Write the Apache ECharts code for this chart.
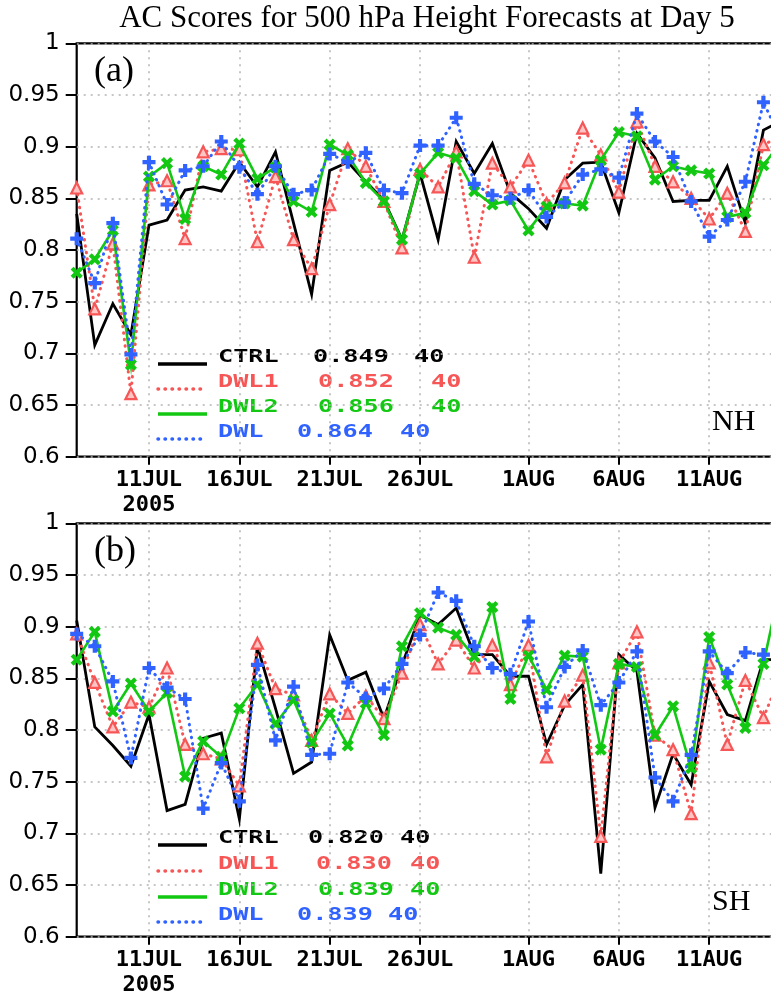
<!DOCTYPE html>
<html>
<head>
<meta charset="utf-8">
<script src="https://cdn.jsdelivr.net/npm/echarts@6/dist/echarts.min.js"></script>
<style>
  html, body { margin: 0; padding: 0; overflow: hidden; background: #fff; }
  #chart { width: 800px; height: 999px; }
</style>
</head>
<body>
<div id="chart"></div>
<script>
// Verification dates (00Z), 7 Jul - 15 Aug 2005
const days = [
  '7JUL','8JUL','9JUL','10JUL','11JUL','12JUL','13JUL','14JUL','15JUL','16JUL',
  '17JUL','18JUL','19JUL','20JUL','21JUL','22JUL','23JUL','24JUL','25JUL','26JUL',
  '27JUL','28JUL','29JUL','30JUL','31JUL','1AUG','2AUG','3AUG','4AUG','5AUG',
  '6AUG','7AUG','8AUG','9AUG','10AUG','11AUG','12AUG','13AUG','14AUG','15AUG'
];
const xTickLabels = ['11JUL','16JUL','21JUL','26JUL','1AUG','6AUG','11AUG'];
const yearLabel = '2005';
const yTicks = [0.6, 0.65, 0.7, 0.75, 0.8, 0.85, 0.9, 0.95, 1];

// Northern Hemisphere AC scores
const nhCtrl = [0.835,0.708,0.748,0.718,0.824,0.829,0.858,0.861,0.857,0.885,
                0.861,0.895,0.826,0.757,0.877,0.885,0.866,0.848,0.810,0.874,
                0.810,0.905,0.874,0.903,0.855,0.840,0.821,0.868,0.884,0.885,
                0.836,0.913,0.889,0.847,0.848,0.848,0.881,0.826,0.916,0.925];
const nhDwl1 = [0.860,0.743,0.806,0.661,0.863,0.867,0.811,0.895,0.898,0.897,
                0.808,0.871,0.810,0.782,0.844,0.898,0.881,0.847,0.802,0.878,
                0.861,0.895,0.793,0.884,0.861,0.887,0.845,0.865,0.918,0.892,
                0.856,0.924,0.881,0.866,0.850,0.830,0.855,0.818,0.902,0.910];
const nhDwl2 = [0.778,0.791,0.819,0.689,0.871,0.884,0.830,0.881,0.873,0.903,
                0.869,0.880,0.847,0.837,0.902,0.892,0.865,0.847,0.810,0.874,
                0.894,0.889,0.857,0.844,0.848,0.819,0.842,0.845,0.843,0.887,
                0.914,0.910,0.868,0.881,0.877,0.874,0.832,0.836,0.882,0.905];
const nhDwl  = [0.811,0.768,0.826,0.699,0.885,0.844,0.877,0.881,0.905,0.880,
                0.854,0.881,0.854,0.858,0.893,0.885,0.894,0.858,0.855,0.901,
                0.901,0.928,0.864,0.853,0.850,0.858,0.832,0.846,0.873,0.878,
                0.870,0.932,0.905,0.890,0.847,0.813,0.829,0.866,0.943,0.906];

// Southern Hemisphere AC scores
const shCtrl = [0.906,0.803,0.785,0.765,0.815,0.722,0.728,0.792,0.797,0.714,
                0.881,0.821,0.758,0.769,0.892,0.848,0.856,0.811,0.863,0.911,
                0.902,0.918,0.873,0.873,0.852,0.852,0.786,0.824,0.844,0.661,
                0.873,0.857,0.725,0.777,0.747,0.847,0.815,0.809,0.868,0.868];
const shDwl1 = [0.893,0.846,0.803,0.827,0.822,0.860,0.786,0.777,0.772,0.746,
                0.884,0.840,0.834,0.790,0.835,0.816,0.833,0.811,0.855,0.902,
                0.864,0.887,0.860,0.882,0.844,0.882,0.774,0.828,0.853,0.697,
                0.865,0.895,0.795,0.781,0.719,0.865,0.786,0.848,0.812,0.855];
const shDwl2 = [0.868,0.895,0.818,0.845,0.818,0.836,0.755,0.789,0.774,0.821,
                0.844,0.806,0.829,0.788,0.816,0.785,0.826,0.795,0.881,0.913,
                0.899,0.892,0.871,0.919,0.830,0.872,0.839,0.872,0.871,0.781,
                0.864,0.861,0.795,0.823,0.763,0.890,0.844,0.802,0.864,0.945];
const shDwl  = [0.893,0.881,0.847,0.773,0.860,0.841,0.830,0.724,0.768,0.731,
                0.863,0.790,0.842,0.776,0.777,0.846,0.831,0.840,0.864,0.892,
                0.933,0.925,0.881,0.860,0.854,0.905,0.822,0.861,0.877,0.824,
                0.846,0.876,0.754,0.731,0.776,0.876,0.855,0.875,0.873,0.872];

// Legend entries: experiment name, mean score, number of cases
const expNames = ['CTRL', 'DWL1', 'DWL2', 'DWL'];
const nhMeans = ['0.849', '0.852', '0.856', '0.864'];
const shMeans = ['0.820', '0.830', '0.839', '0.839'];
const caseCounts = ['40', '40', '40', '40'];

const titleText = 'AC Scores for 500 hPa Height Forecasts at Day 5';

const RED = '#f65656', GREEN = '#12c812', BLUE = '#2f62ff';
const PLUS = 'path://M3.4,0H6.6V3.4H10V6.6H6.6V10H3.4V6.6H0V3.4H3.4Z';

const styles = [
  { color: '#000', line: { width: 2.8, type: 'solid' }, symbol: 'none' },
  { color: RED, line: { width: 3, type: [0.5, 6], cap: 'round' }, symbol: 'triangle', size: 11,
    item: { color: '#ffc4c4', borderColor: RED, borderWidth: 2.2 } },
  { color: GREEN, line: { width: 2.6, type: 'solid' }, symbol: PLUS, size: 13, rotate: 45,
    item: { color: GREEN } },
  { color: BLUE, line: { width: 3, type: [0.5, 6], cap: 'round' }, symbol: PLUS, size: 13, rotate: 0,
    item: { color: BLUE } }
];

const isTick = (idx) => xTickLabels.indexOf(days[idx]) >= 0;

const gridLeft = 76.7, plotW = 704.8, plotH = 413.4;
const panelTops = [43.3, 523.3];

function makeXAxis(gi) {
  return {
    type: 'category', gridIndex: gi, data: days, boundaryGap: false,
    axisLine: { show: false },
    axisTick: { show: true, inside: false, length: 8, interval: isTick, lineStyle: { color: '#000', width: 2 } },
    axisLabel: {
      interval: isTick, margin: 11,
      formatter: (v) => v === xTickLabels[0] ? v + '\n' + yearLabel : v,
      fontFamily: 'DejaVu Sans Mono', fontWeight: 'bold', fontSize: 22, color: '#000', lineHeight: 25
    },
    splitLine: { show: true, interval: isTick, lineStyle: { color: '#b4b4b4', width: 1.5, type: [2, 5] } }
  };
}
function makeYAxis(gi) {
  return {
    type: 'value', gridIndex: gi, min: yTicks[0], max: yTicks[yTicks.length - 1], interval: 0.05,
    axisLine: { show: false },
    axisTick: { show: true, inside: false, length: 11, lineStyle: { color: '#000', width: 2 } },
    axisLabel: {
      margin: 17, color: '#000', fontFamily: 'DejaVu Sans', fontSize: 23,
      formatter: (v) => String(+v.toFixed(2))
    },
    splitLine: { show: true, lineStyle: { color: '#b4b4b4', width: 1.5, type: [2, 5] } }
  };
}

function makeSeries(gi, sets) {
  return sets.map((d, k) => {
    const s = styles[k];
    const out = {
      type: 'line', name: expNames[k], xAxisIndex: gi, yAxisIndex: gi, data: d,
      z: 2 + k, silent: true,
      lineStyle: { color: s.color, width: s.line.width, type: s.line.type, cap: s.line.cap || 'butt', join: 'miter' },
      symbol: s.symbol, showSymbol: s.symbol !== 'none', showAllSymbol: true
    };
    if (s.symbol !== 'none') {
      out.symbolSize = s.size;
      out.symbolRotate = s.rotate || 0;
      out.itemStyle = s.item;
    }
    return out;
  });
}

// Legend block graphics
const legendLineY = [[364, 389, 414, 439], [845, 871, 897, 922]];
const legendTextY = [[357, 382, 407, 432], [838, 864, 890, 915]];
const meanX = [[313, 318, 318, 297], [308, 316, 318, 297]];
const countX = [[414, 431, 431, 400], [400, 410, 410, 388]];

function legendText(txt, x, y, color) {
  return {
    type: 'text', x: x, y: y, scaleX: 1.4, silent: true,
    style: { text: txt, x: 0, y: 0, fill: color, font: 'bold 18px "DejaVu Sans Mono"',
             textAlign: 'left', textVerticalAlign: 'middle' }
  };
}

const graphics = [];
graphics.push({
  type: 'text', x: 427, y: 19, silent: true,
  style: { text: titleText, fill: '#000', font: '31px "Liberation Serif"', textAlign: 'center', textVerticalAlign: 'middle' }
});
['(a)', '(b)'].forEach((t, p) => {
  graphics.push({
    type: 'text', x: 94, y: p === 0 ? 72 : 552, silent: true,
    style: { text: t, fill: '#000', font: '36px "Liberation Serif"', textAlign: 'left', textVerticalAlign: 'middle' }
  });
});
['NH', 'SH'].forEach((t, p) => {
  graphics.push({
    type: 'text', x: 712, y: p === 0 ? 422 : 902, silent: true,
    style: { text: t, fill: '#000', font: '30px "Liberation Serif"', textAlign: 'left', textVerticalAlign: 'middle' }
  });
});
[nhMeans, shMeans].forEach((means, p) => {
  expNames.forEach((name, k) => {
    const s = styles[k];
    const ly = legendLineY[p][k];
    graphics.push({
      type: 'line', silent: true,
      shape: { x1: 158, y1: ly, x2: 207, y2: ly },
      style: {
        stroke: s.color, lineWidth: 3.5,
        lineDash: k % 2 === 0 ? null : [0.5, 6.5], lineCap: k % 2 === 0 ? 'butt' : 'round'
      }
    });
    const ty = legendTextY[p][k];
    graphics.push(legendText(name, 218, ty, s.color));
    graphics.push(legendText(means[k], meanX[p][k], ty, s.color));
    graphics.push(legendText(caseCounts[k], countX[p][k], ty, s.color));
  });
});

const chart = echarts.init(document.getElementById('chart'), null, { renderer: 'canvas' });
chart.setOption({
  animation: false,
  backgroundColor: '#fff',
  grid: panelTops.map((t) => ({
    left: gridLeft, top: t, width: plotW, height: plotH,
    show: true, borderColor: '#000', borderWidth: 2.2, backgroundColor: 'transparent'
  })),
  xAxis: [makeXAxis(0), makeXAxis(1)],
  yAxis: [makeYAxis(0), makeYAxis(1)],
  series: [
    ...makeSeries(0, [nhCtrl, nhDwl1, nhDwl2, nhDwl]),
    ...makeSeries(1, [shCtrl, shDwl1, shDwl2, shDwl])
  ],
  graphic: graphics
});
</script>
</body>
</html>
